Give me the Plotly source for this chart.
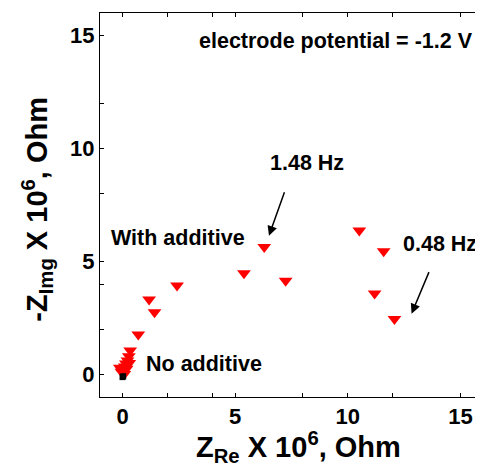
import plotly.graph_objects as go

# "With additive" series (red downward triangles)
with_x = [10.51, 11.59, 11.19, 12.07, 6.29, 7.24, 5.39, 2.42, 1.18, 1.42, 0.70, 0.34,
          0.28, 0.22, 0.15, 0.10, 0.05, -0.05, -0.12, 0.18, 0.30, 0.08]
with_y = [6.37, 5.45, 3.58, 2.45, 5.64, 4.15, 4.48, 3.94, 3.32, 2.75, 1.77, 1.06,
          0.80, 0.62, 0.48, 0.35, 0.22, 0.12, 0.30, 0.25, 0.50, 0.02]

# "No additive" series (black squares near origin)
no_x = [0.00, 0.03]
no_y = [-0.12, -0.08]

major_ticks = [0, 5, 10, 15]
major_labels = ["0", "5", "10", "15"]
minor_ticks = [2, 4, 8, 12]

FONT = "Liberation Sans, Arial, sans-serif"

fig = go.Figure()
fig.add_trace(go.Scatter(x=with_x, y=with_y, mode="markers",
                         marker=dict(symbol="triangle-down", size=12, color="#ff0000",
                                     line=dict(width=0)),
                         showlegend=False))
fig.add_trace(go.Scatter(x=no_x, y=no_y, mode="markers",
                         marker=dict(symbol="square", size=6, color="black"),
                         showlegend=False))

axis_common = dict(
    tickmode="array", tickvals=major_ticks, ticktext=major_labels,
    ticks="inside", ticklen=4, tickcolor="black",
    minor=dict(tickmode="array", tickvals=minor_ticks, ticks="inside", ticklen=4,
               tickcolor="black", showgrid=False),
    showline=True, linecolor="black", linewidth=1,
    mirror="ticks", showgrid=False, zeroline=False, automargin=False,
    tickfont=dict(family=FONT, size=22, color="black", weight="bold"),
)

fig.update_xaxes(range=[-1, 16], **axis_common)
fig.update_yaxes(range=[-1, 16], **axis_common)

title_font = dict(family=FONT, size=29, color="black", weight="bold")
fig.add_annotation(xref="paper", yref="paper", x=0.517, y=-0.13, xanchor="center",
                   yanchor="middle", showarrow=False, font=title_font,
                   text="Z<sub>Re</sub> X 10<sup>6</sup>, Ohm")
fig.add_annotation(xref="paper", yref="paper", x=-0.165, y=0.49, xanchor="center",
                   yanchor="middle", showarrow=False, font=title_font, textangle=-90,
                   text="-Z<sub>Img</sub> X 10<sup>6</sup>, Ohm")

txt_font = dict(family=FONT, size=21.5, color="black", weight="bold")
anns = [
    dict(x=9.48, y=14.75, text="electrode potential = -1.2 V"),
    dict(x=8.18, y=9.36, text="1.48 Hz"),
    dict(x=14.10, y=5.79, text="0.48 Hz"),
    dict(x=2.45, y=6.06, text="With additive"),
    dict(x=3.60, y=0.45, text="No additive"),
]
for a in anns:
    fig.add_annotation(xref="x", yref="y", showarrow=False, font=txt_font, **a)

for tip_x, tip_y, dx, dy in [(6.50, 6.14, 16, -45), (12.83, 2.69, 18, -43)]:
    fig.add_annotation(xref="x", yref="y", x=tip_x, y=tip_y, ax=dx, ay=dy, text="",
                       showarrow=True, arrowhead=2, arrowsize=1.3, arrowwidth=1.5,
                       arrowcolor="black")

# page body adds an 8px offset, so the figure is sized to fit the window
fig.update_layout(width=475, height=460,
                  margin=dict(l=92, r=0, t=5, b=71),
                  paper_bgcolor="white", plot_bgcolor="white")

fig.write_html("out.html")
